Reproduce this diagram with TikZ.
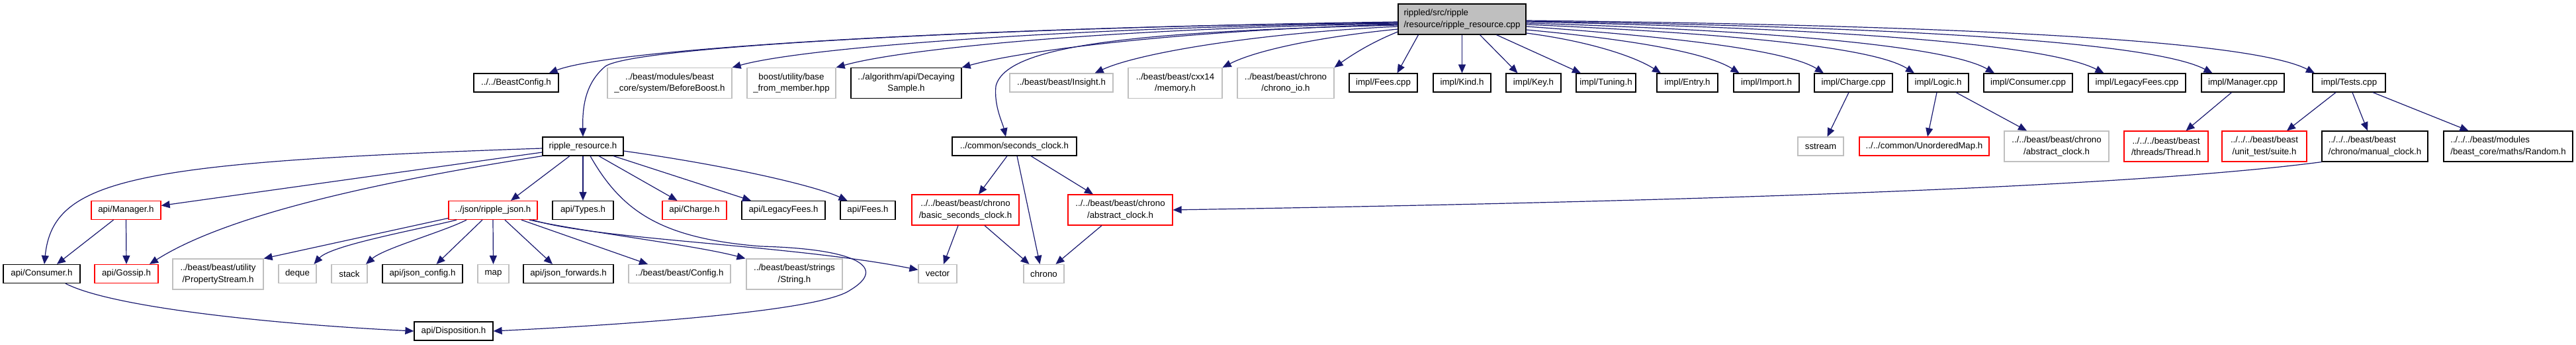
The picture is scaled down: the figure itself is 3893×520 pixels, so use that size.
\documentclass[tikz,border=0pt]{standalone}
\usepackage{fontspec}
\setmainfont{Liberation Sans}
\usetikzlibrary{arrows.meta,calc}
\definecolor{edgec}{HTML}{191970}
\definecolor{grayb}{HTML}{BFBFBF}
\definecolor{mainfill}{HTML}{BFBFBF}
\begin{document}
\begin{tikzpicture}[x=1pt,y=-1pt,
  base/.style={draw, line width=1.2pt, inner sep=0pt, minimum height=28pt, align=center,
    font=\fontsize{13.3pt}{17.3pt}\selectfont, text=black},
  blk/.style={base, draw=black},
  ext/.style={base, draw=grayb},
  trunc/.style={base, draw=red},
  two/.style={minimum height=46pt},
  dep/.style={draw=edgec, line width=1.2pt, -{Triangle[length=13pt,width=11pt]}}
]
\useasboundingbox (0,0) rectangle (3893,520);
\fill[white] (0,0) rectangle (3893,520);

% ---------- row 0
\node[blk, two, fill=mainfill, align=left, minimum width=193pt] (main) at (2209.5,29) {rippled/src/ripple\\/resource/ripple\_resource.cpp};

% ---------- row 1
\node[blk, minimum width=128pt] (beastcfg) at (780,125) {../../BeastConfig.h};
\node[ext, two, minimum width=188pt] (beforeboost) at (1012,125.5) {../beast/modules/beast\\\_core/system/BeforeBoost.h};
\node[ext, two, minimum width=134pt] (basemember) at (1196,125.5) {boost/utility/base\\\_from\_member.hpp};
\node[blk, two, minimum width=167pt] (decaying) at (1369.5,125.5) {../algorithm/api/Decaying\\Sample.h};
\node[ext, minimum width=156pt] (insight) at (1604,125) {../beast/beast/Insight.h};
\node[ext, two, minimum width=142pt] (memory) at (1776,125.5) {../beast/beast/cxx14\\/memory.h};
\node[ext, two, minimum width=146pt] (chronoio) at (1943,125.5) {../beast/beast/chrono\\/chrono\_io.h};
\node[blk, minimum width=103pt] (feescpp) at (2090.5,125) {impl/Fees.cpp};
\node[blk, minimum width=87pt] (kind) at (2209.5,125) {impl/Kind.h};
\node[blk, minimum width=83pt] (key) at (2317.5,125) {impl/Key.h};
\node[blk, minimum width=90pt] (tuning) at (2427,125) {impl/Tuning.h};
\node[blk, minimum width=92pt] (entry) at (2550,125) {impl/Entry.h};
\node[blk, minimum width=99pt] (import) at (2669.5,125) {impl/Import.h};
\node[blk, minimum width=118pt] (chargecpp) at (2801,125) {impl/Charge.cpp};
\node[blk, minimum width=92pt] (logic) at (2929,125) {impl/Logic.h};
\node[blk, minimum width=134pt] (consumercpp) at (3065,125) {impl/Consumer.cpp};
\node[blk, minimum width=147pt] (legacycpp) at (3229.5,125) {impl/LegacyFees.cpp};
\node[blk, minimum width=125pt] (managercpp) at (3389.5,125) {impl/Manager.cpp};
\node[blk, minimum width=110pt] (testscpp) at (3550,125) {impl/Tests.cpp};

% ---------- row 2
\node[blk, minimum width=122pt] (rrh) at (881,221) {ripple\_resource.h};
\node[blk, minimum width=188pt] (secclock) at (1533,221) {../common/seconds\_clock.h};
\node[ext, minimum width=69pt] (sstream) at (2751.5,221) {sstream};
\node[trunc, minimum width=196pt] (umap) at (2908,221) {../../common/UnorderedMap.h};
\node[ext, two, minimum width=158pt] (absgray) at (3108,221) {../../beast/beast/chrono\\/abstract\_clock.h};
\node[trunc, two, minimum width=127pt] (thread) at (3273.5,221) {../../../beast/beast\\/threads/Thread.h};
\node[trunc, two, minimum width=128pt] (suite) at (3422,221) {../../../beast/beast\\/unit\_test/suite.h};
\node[blk, two, align=left, minimum width=160pt] (manual) at (3589,221) {../../../beast/beast\\/chrono/manual\_clock.h};
\node[blk, two, align=left, minimum width=195pt] (random) at (3790.5,221) {../../../beast/modules\\/beast\_core/maths/Random.h};

% ---------- row 3
\node[trunc, minimum width=105pt] (managerh) at (190.5,317.5) {api/Manager.h};
\node[trunc, minimum width=134pt] (json) at (745,317.5) {../json/ripple\_json.h};
\node[blk, minimum width=92pt] (types) at (881,317.5) {api/Types.h};
\node[trunc, minimum width=97pt] (chargeh) at (1049.5,317.5) {api/Charge.h};
\node[blk, minimum width=126pt] (legacyh) at (1184,317.5) {api/LegacyFees.h};
\node[blk, minimum width=83pt] (feesh) at (1311.5,317.5) {api/Fees.h};
\node[trunc, two, minimum width=162pt] (basicsc) at (1459,317) {../../beast/beast/chrono\\/basic\_seconds\_clock.h};
\node[trunc, two, minimum width=158pt] (absred) at (1693,317) {../../beast/beast/chrono\\/abstract\_clock.h};

% ---------- row 4
\node[blk, minimum width=116pt] (consumerh) at (63,413.5) {api/Consumer.h};
\node[trunc, minimum width=96pt] (gossip) at (191,413.5) {api/Gossip.h};
\node[ext, two, minimum width=137pt] (propstream) at (329.5,414) {../beast/beast/utility\\/PropertyStream.h};
\node[ext, minimum width=57pt] (deque) at (449.5,413.5) {deque};
\node[ext, minimum width=54pt] (stack) at (528,413.5) {stack};
\node[blk, minimum width=121pt] (jsonconfig) at (638.5,413.5) {api/json\_config.h};
\node[ext, minimum width=47pt] (map) at (745.5,413.5) {map};
\node[blk, minimum width=136pt] (jsonfwd) at (859,413.5) {api/json\_forwards.h};
\node[ext, minimum width=154pt] (config) at (1027,413.5) {../beast/beast/Config.h};
\node[ext, two, minimum width=145pt] (string) at (1200.5,414) {../beast/beast/strings\\/String.h};
\node[ext, minimum width=58pt] (vector) at (1417,413.5) {vector};
\node[ext, minimum width=61pt] (chrono) at (1577.5,413.5) {chrono};

% ---------- row 5
\node[blk, minimum width=119pt] (disposition) at (685.5,500) {api/Disposition.h};

% ========== edges from main (left side)
\draw[dep] ([yshift=-4pt]main.west) .. controls (1500,42) and (960,70) .. (915,100) .. controls (885,125) and (880,160) .. (rrh.north);
\draw[dep] ([yshift=-5pt]main.west) .. controls (1500,40) and (930,72) .. ([xshift=-15pt]beastcfg.north east);
\draw[dep] ([yshift=-6pt]main.west) .. controls (1650,40) and (1220,70) .. (beforeboost.north east);
\draw[dep] ([yshift=-7pt]main.west) .. controls (1700,42) and (1370,72) .. (basemember.north east);
\draw[dep] ([yshift=-8pt]main.west) .. controls (1800,45) and (1550,75) .. (decaying.north east);
\draw[dep] ([yshift=-9pt]main.west) .. controls (1700,48) and (1520,70) .. (1505,130) .. controls (1502,160) and (1515,185) .. ([xshift=-13pt]secclock.north);
\draw[dep] ([yshift=-11pt]main.west) .. controls (1900,50) and (1720,80) .. ([xshift=-28pt]insight.north east);
\draw[dep] ([yshift=-15pt]main.west) .. controls (2000,55) and (1900,75) .. (memory.north east);
\draw[dep] ([yshift=-19pt]main.west) .. controls (2070,65) and (2040,85) .. (chronoio.north east);

% ========== edges from main (bottom / right side)
\draw[dep] ([xshift=-66pt]main.south) -- ([xshift=21pt]feescpp.north);
\draw[dep] (main.south) -- (kind.north);
\draw[dep] ([xshift=27pt]main.south) -- ([xshift=-24pt]key.north);
\draw[dep] ([xshift=52pt]main.south) -- ([xshift=-38pt]tuning.north);
\draw[dep] ([yshift=-21pt]main.east) .. controls (2400,62) and (2470,85) .. ([xshift=-40pt]entry.north);
\draw[dep] ([yshift=-16pt]main.east) .. controls (2470,60) and (2580,80) .. ([xshift=-41pt]import.north);
\draw[dep] ([yshift=-11pt]main.east) .. controls (2520,55) and (2700,75) .. ([xshift=-45pt]chargecpp.north);
\draw[dep] ([yshift=-8pt]main.east) .. controls (2600,50) and (2830,70) .. ([xshift=-36pt]logic.north);
\draw[dep] ([yshift=-6pt]main.east) .. controls (2650,45) and (2940,68) .. ([xshift=-51pt]consumercpp.north);
\draw[dep] ([yshift=-4pt]main.east) .. controls (2750,42) and (3090,65) .. ([xshift=-50pt]legacycpp.north);
\draw[dep] ([yshift=-3pt]main.east) .. controls (2850,40) and (3250,62) .. ([xshift=-46pt]managercpp.north);
\draw[dep] ([yshift=-2pt]main.east) .. controls (2950,38) and (3400,60) .. ([xshift=-52pt]testscpp.north);

% ========== impl edges
\draw[dep] ([xshift=-7pt]chargecpp.south) -- ([xshift=10pt]sstream.north);
\draw[dep] ([xshift=-2pt]logic.south) -- ([xshift=5pt]umap.north);
\draw[dep] ([xshift=27pt]logic.south) -- ([xshift=-45pt]absgray.north);
\draw[dep] ([xshift=-17pt]managercpp.south) -- ([xshift=30pt]thread.north);
\draw[dep] ([xshift=-20pt]testscpp.south) -- ([xshift=34pt]suite.north);
\draw[dep] ([xshift=5pt]testscpp.south) -- ([xshift=-11pt]manual.north);
\draw[dep] ([xshift=36pt]testscpp.south) -- ([xshift=-60pt]random.north);
\draw[dep] (manual.south west) .. controls (3200,285) and (2500,305) .. (absred.east);

% ========== ripple_resource.h edges
\draw[dep] ([yshift=-3pt]rrh.west) .. controls (200,245) and (80,270) .. ([xshift=4pt]consumerh.north);
\draw[dep] ([yshift=-9pt]rrh.west) -- ([yshift=7pt]managerh.east);
\draw[dep] (rrh.south west) .. controls (600,270) and (350,320) .. ([xshift=35pt]gossip.north);
\draw[dep] ([xshift=-20pt]rrh.south) -- ([xshift=27pt]json.north);
\draw[dep] (rrh.south) -- (types.north);
\draw[dep] ([xshift=24pt]rrh.south) -- ([xshift=-26pt]chargeh.north);
\draw[dep] ([xshift=46pt]rrh.south) -- ([xshift=-49pt]legacyh.north);
\draw[dep] ([yshift=-7pt]rrh.east) .. controls (1100,250) and (1230,280) .. ([xshift=-31pt]feesh.north);
\draw[dep] ([xshift=11pt]rrh.south) .. controls (940,320) and (1000,360) .. (1150,372) .. controls (1300,376) and (1340,405) .. (1285,438) .. controls (1240,470) and (950,490) .. (disposition.east);

% ========== api edges
\draw[dep] ([xshift=-19pt]managerh.south) -- ([xshift=23pt]consumerh.north);
\draw[dep] (managerh.south) -- (gossip.north);
\draw[dep] ([xshift=36pt]consumerh.south) .. controls (170,465) and (420,490) .. (disposition.west);

% ========== json edges
\draw[dep] ([yshift=-12pt]json.west) -- (propstream.north east);
\draw[dep] ([xshift=-55pt]json.south) .. controls (640,345) and (500,370) .. ([xshift=25pt]deque.north);
\draw[dep] ([xshift=-40pt]json.south) .. controls (670,350) and (580,375) .. ([xshift=25pt]stack.north);
\draw[dep] ([xshift=-16pt]json.south) -- ([xshift=21pt]jsonconfig.north);
\draw[dep] (json.south) -- (map.north);
\draw[dep] ([xshift=18pt]json.south) -- ([xshift=-24pt]jsonfwd.north);
\draw[dep] ([xshift=43pt]json.south) -- ([xshift=-48pt]config.north);
\draw[dep] ([xshift=55pt]json.south) .. controls (880,350) and (1050,370) .. ([xshift=-74pt]string.north);
\draw[dep] ([xshift=60pt]json.south) .. controls (900,362) and (1200,370) .. ([yshift=6pt]vector.west);

% ========== clock edges
\draw[dep] ([xshift=-11pt]secclock.south) -- ([xshift=20pt]basicsc.north);
\draw[dep] ([xshift=4pt]secclock.south) -- ([xshift=-6pt]chrono.north);
\draw[dep] ([xshift=25pt]secclock.south) -- ([xshift=-41pt]absred.north);
\draw[dep] ([xshift=-11pt]basicsc.south) -- ([xshift=9pt]vector.north);
\draw[dep] ([xshift=29pt]basicsc.south) -- ([xshift=-22pt]chrono.north);
\draw[dep] ([xshift=-28pt]absred.south) -- ([xshift=18pt]chrono.north);
\end{tikzpicture}
\end{document}
